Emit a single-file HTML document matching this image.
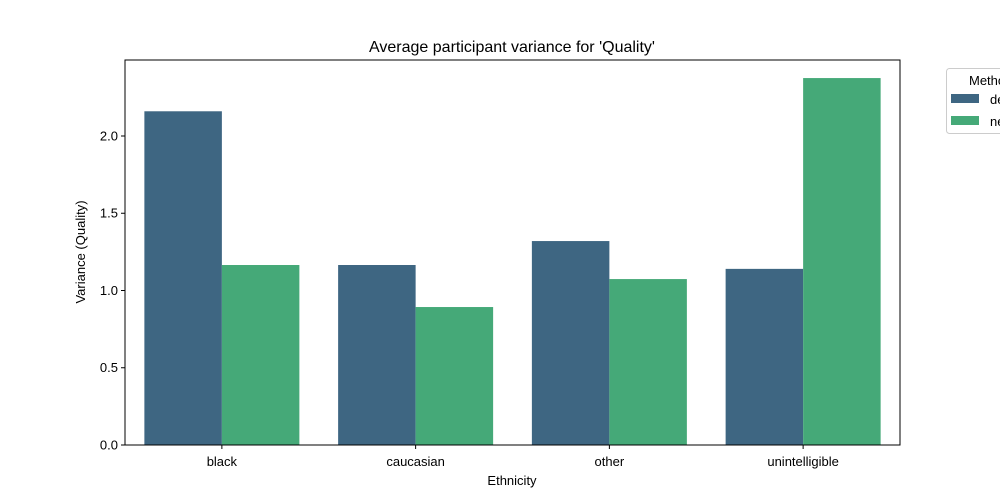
<!DOCTYPE html>
<html><head><meta charset="utf-8"><style>
body{margin:0;background:#fff;}
svg{display:block;font-family:"Liberation Sans","DejaVu Sans",sans-serif;}
</style></head><body>
<svg id="chart" width="1000" height="500">
<text x="512" y="52" text-anchor="middle" font-size="16">Average participant variance for 'Quality'</text>
<g id="plot"></g>
<rect x="125" y="60" width="775" height="385" fill="none" stroke="#000" stroke-width="1"/>
<text x="512" y="485" text-anchor="middle" font-size="13">Ethnicity</text>
<text transform="translate(85,252) rotate(-90)" text-anchor="middle" font-size="13">Variance (Quality)</text>
<g>
<rect x="946.5" y="68.5" width="70" height="65" rx="3" fill="#fff" stroke="#ccc"/>
<text x="969" y="85" font-size="13">Method</text>
<rect x="951" y="94" width="28" height="9" fill="#3e6682"/>
<text x="990" y="104" font-size="13">default</text>
<rect x="951" y="116" width="28" height="9" fill="#45a978"/>
<text x="990" y="126" font-size="13">new</text>
</g>
</svg>
<script>
const categories = ["black","caucasian","other","unintelligible"];
const seriesNames = ["default","new"];
const defaultValues = [2.16, 1.165, 1.32, 1.14];
const newValues = [1.165, 0.893, 1.074, 2.375];
const yTicks = [0.0, 0.5, 1.0, 1.5, 2.0];
const colors = ["#3e6682","#45a978"];
const NS="http://www.w3.org/2000/svg";
const L=125,R=900,T=60,B=445,yMax=2.4919;
function y(v){return B-(v/yMax)*(B-T);}
const band=(R-L)/categories.length;
function xc(i){return L+band*(i+0.5);}
const g=document.getElementById('plot');
function mk(t,a){const e=document.createElementNS(NS,t);for(const k in a)e.setAttribute(k,a[k]);return e;}
[defaultValues,newValues].forEach((vals,s)=>{
 vals.forEach((v,i)=>{
  const w=band*0.8/2;
  const r=mk('rect',{x:xc(i)-band*0.4+s*w,y:y(v),width:w,height:B-y(v),fill:colors[s]});
  
  
  g.appendChild(r);
 });
});
yTicks.forEach(t=>{
 const l=mk('line',{x1:L-4,x2:L,y1:y(t),y2:y(t),stroke:'#000'});
 
 
 g.appendChild(l);
 const tx=mk('text',{x:L-7,y:y(t)+4.5,'text-anchor':'end','font-size':13});
 tx.textContent=t.toFixed(1);
 
 
 g.appendChild(tx);
});
categories.forEach((c,i)=>{
 const l=mk('line',{x1:xc(i),x2:xc(i),y1:B,y2:B+4,stroke:'#000'});
 
 
 g.appendChild(l);
 const tx=mk('text',{x:xc(i),y:B+21,'text-anchor':'middle','font-size':13});
 tx.textContent=c;
 
 
 g.appendChild(tx);
});
</script>
</body></html>
